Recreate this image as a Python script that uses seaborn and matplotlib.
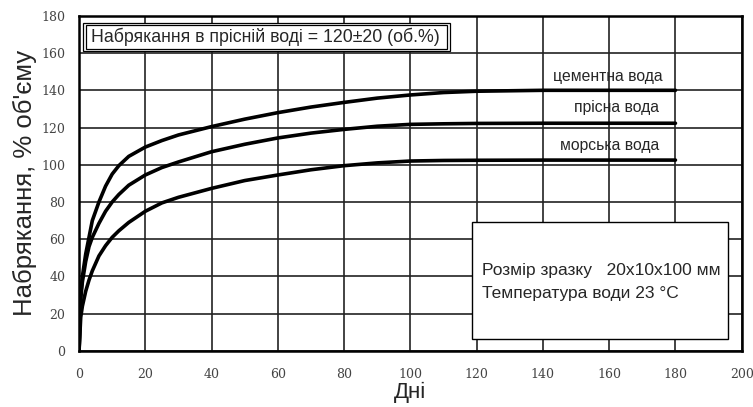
import pandas as pd
import matplotlib.pyplot as plt
from matplotlib.patches import Rectangle
import seaborn as sns

days = [0, 0.5, 1, 2, 3, 4, 6, 8, 10, 12, 15, 20, 25, 30, 40, 50, 60, 70, 80, 90,
        100, 110, 120, 140, 160, 180]
cement_water = [0, 30, 40, 52, 61, 70, 80, 88.5, 95, 99.5, 104.5, 109.5, 113, 116, 120.5,
                124.5, 128, 131, 133.5, 135.8, 137.5, 138.8, 139.5, 140, 140, 140]
fresh_water = [0, 28, 37, 48, 56, 61, 68.5, 75, 80, 84, 89, 94.5, 98.5, 101.5, 107,
               111, 114.4, 117, 119, 120.7, 121.7, 122, 122.2, 122.3, 122.3, 122.3]
sea_water = [0, 18, 24, 32, 38, 43, 51, 56.5, 61, 64.5, 69, 75, 79.5, 82.5, 87.3,
             91.5, 94.5, 97.3, 99.5, 101, 102, 102.3, 102.4, 102.5, 102.5, 102.5]

series_names = ['цементна вода', 'прісна вода', 'морська вода']
label_pos = [(176, 147.5), (175, 131), (175, 110.5)]

xticks = list(range(0, 201, 20))
yticks = list(range(0, 181, 20))

df = pd.DataFrame({
    'days': days * 3,
    'swelling': cement_water + fresh_water + sea_water,
    'water': sum([[n] * len(days) for n in series_names], []),
})

sns.set_style('white')
plt.rcParams['font.family'] = ['Liberation Sans', 'DejaVu Sans']

fig = plt.figure(figsize=(7.53, 4.07), dpi=100)
ax = fig.add_axes([0.105, 0.138, 0.880, 0.823])

sns.lineplot(data=df, x='days', y='swelling', hue='water',
             palette=['black'] * 3, linewidth=2.6, legend=False, ax=ax, zorder=3)

ax.set_xlim(0, 200)
ax.set_ylim(0, 180)
ax.set_xticks(xticks)
ax.set_yticks(yticks)
ax.grid(True, color='#222222', linewidth=1.2)
ax.set_axisbelow(True)
for sp in ax.spines.values():
    sp.set_visible(True)
    sp.set_color('black')
    sp.set_linewidth(1.8)
ax.tick_params(axis='x', length=0, pad=12)
ax.tick_params(axis='y', length=0, pad=10)
for lab in ax.get_xticklabels() + ax.get_yticklabels():
    lab.set_family(['DejaVu Serif'])
    lab.set_fontsize(9)
    lab.set_color('#444444')

ax.set_xlabel('Дні', fontsize=16, labelpad=1)
ax.set_ylabel('Набрякання, % об\'єму', fontsize=18.5, labelpad=3)

for name, (lx, ly) in zip(series_names, label_pos):
    ax.text(lx, ly, name, ha='right', va='center', fontsize=11.3, zorder=4)

# title box with double border
ax.add_patch(Rectangle((1.2, 161), 110.8, 15.2, facecolor='white',
                       edgecolor='black', linewidth=0.9, zorder=4))
ax.add_patch(Rectangle((2.2, 162.2), 108.8, 12.8, facecolor='white',
                       edgecolor='black', linewidth=0.9, zorder=4))
ax.text(3.6, 168.6, 'Набрякання в прісній воді = 120±20 (об.%)', fontsize=12.8,
        va='center', ha='left', zorder=5)

# conditions box
ax.add_patch(Rectangle((118.6, 6.4), 77.4, 62.6, facecolor='white',
                       edgecolor='black', linewidth=1.0, zorder=4))
ax.text(121.5, 43, 'Розмір зразку   20x10x100 мм', fontsize=12.5,
        va='center', ha='left', zorder=5)
ax.text(121.5, 31, 'Температура води 23 °C', fontsize=12.5,
        va='center', ha='left', zorder=5)

fig.savefig('out.png', dpi=100)
